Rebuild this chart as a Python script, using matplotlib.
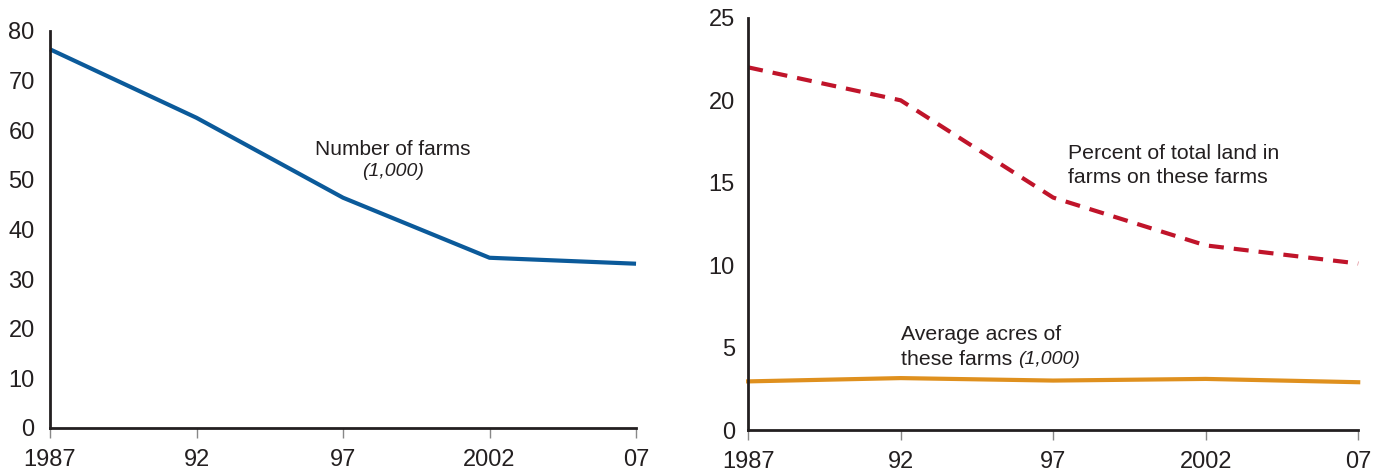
import matplotlib
matplotlib.use('Agg')
import matplotlib.pyplot as plt

plt.rcParams['font.family'] = ['Liberation Sans', 'DejaVu Sans']

# data
years = [1987, 1992, 1997, 2002, 2007]
year_labels = ['1987', '92', '97', '2002', '07']
num_farms = [76.3, 62.5, 46.4, 34.3, 33.1]          # thousands
pct_land = [22.0, 20.0, 14.1, 11.2, 10.1]           # percent
avg_acres = [2.95, 3.15, 3.0, 3.1, 2.9]             # thousand acres

left_ticks = [0, 10, 20, 30, 40, 50, 60, 70, 80]
right_ticks = [0, 5, 10, 15, 20, 25]

BLUE = '#0b5a9a'
RED = '#c0142a'
ORANGE = '#df901e'
TEXT = '#231f20'

fig = plt.figure(figsize=(13.74, 4.71), dpi=100)
ax1 = fig.add_axes([0.0364, 0.0913, 0.4265, 0.843])
ax2 = fig.add_axes([0.5445, 0.0870, 0.4440, 0.875])


def style_axis(ax, ymax, yticks, ypad):
    ax.set_xlim(years[0], years[-1])
    ax.set_ylim(0, ymax)
    ax.set_xticks(years)
    ax.set_xticklabels(year_labels)
    ax.set_yticks(yticks)
    for s in ['top', 'right']:
        ax.spines[s].set_visible(False)
    for s in ['left', 'bottom']:
        ax.spines[s].set_linewidth(2)
        ax.spines[s].set_color(TEXT)
    ax.tick_params(axis='y', length=0, pad=ypad, labelsize=17, labelcolor=TEXT)
    ax.tick_params(axis='x', length=7, width=1, color='#888888', direction='out',
                   pad=8, labelsize=17, labelcolor=TEXT)


# left panel
ax1.plot(years, num_farms, color=BLUE, lw=3, solid_capstyle='butt', clip_on=False)
style_axis(ax1, 80, left_ticks, 11)
ax1.text(1998.7, 56.2, 'Number of farms', ha='center', va='center', fontsize=15, color=TEXT)
ax1.text(1998.7, 51.6, '(1,000)', ha='center', va='center', fontsize=14,
         style='italic', color=TEXT)

# right panel
ax2.plot(years, pct_land, color=RED, lw=3, dashes=(3.6, 2.4), clip_on=False)
ax2.plot(years, avg_acres, color=ORANGE, lw=3, clip_on=False)
style_axis(ax2, 25, right_ticks, 9.5)
ax2.text(1997.5, 16.8, 'Percent of total land in', ha='left', va='center',
         fontsize=15.3, color=TEXT)
ax2.text(1997.5, 15.3, 'farms on these farms', ha='left', va='center',
         fontsize=15.3, color=TEXT)
ax2.text(1992.0, 5.8, 'Average acres of', ha='left', va='center', fontsize=15.3, color=TEXT)
t = ax2.text(1992.0, 4.3, 'these farms ', ha='left', va='center', fontsize=15.3, color=TEXT)
ax2.annotate('(1,000)', xycoords=t, xy=(1, 0.5), va='center', ha='left',
             fontsize=14, style='italic', color=TEXT)

fig.savefig('out.png', dpi=100)
